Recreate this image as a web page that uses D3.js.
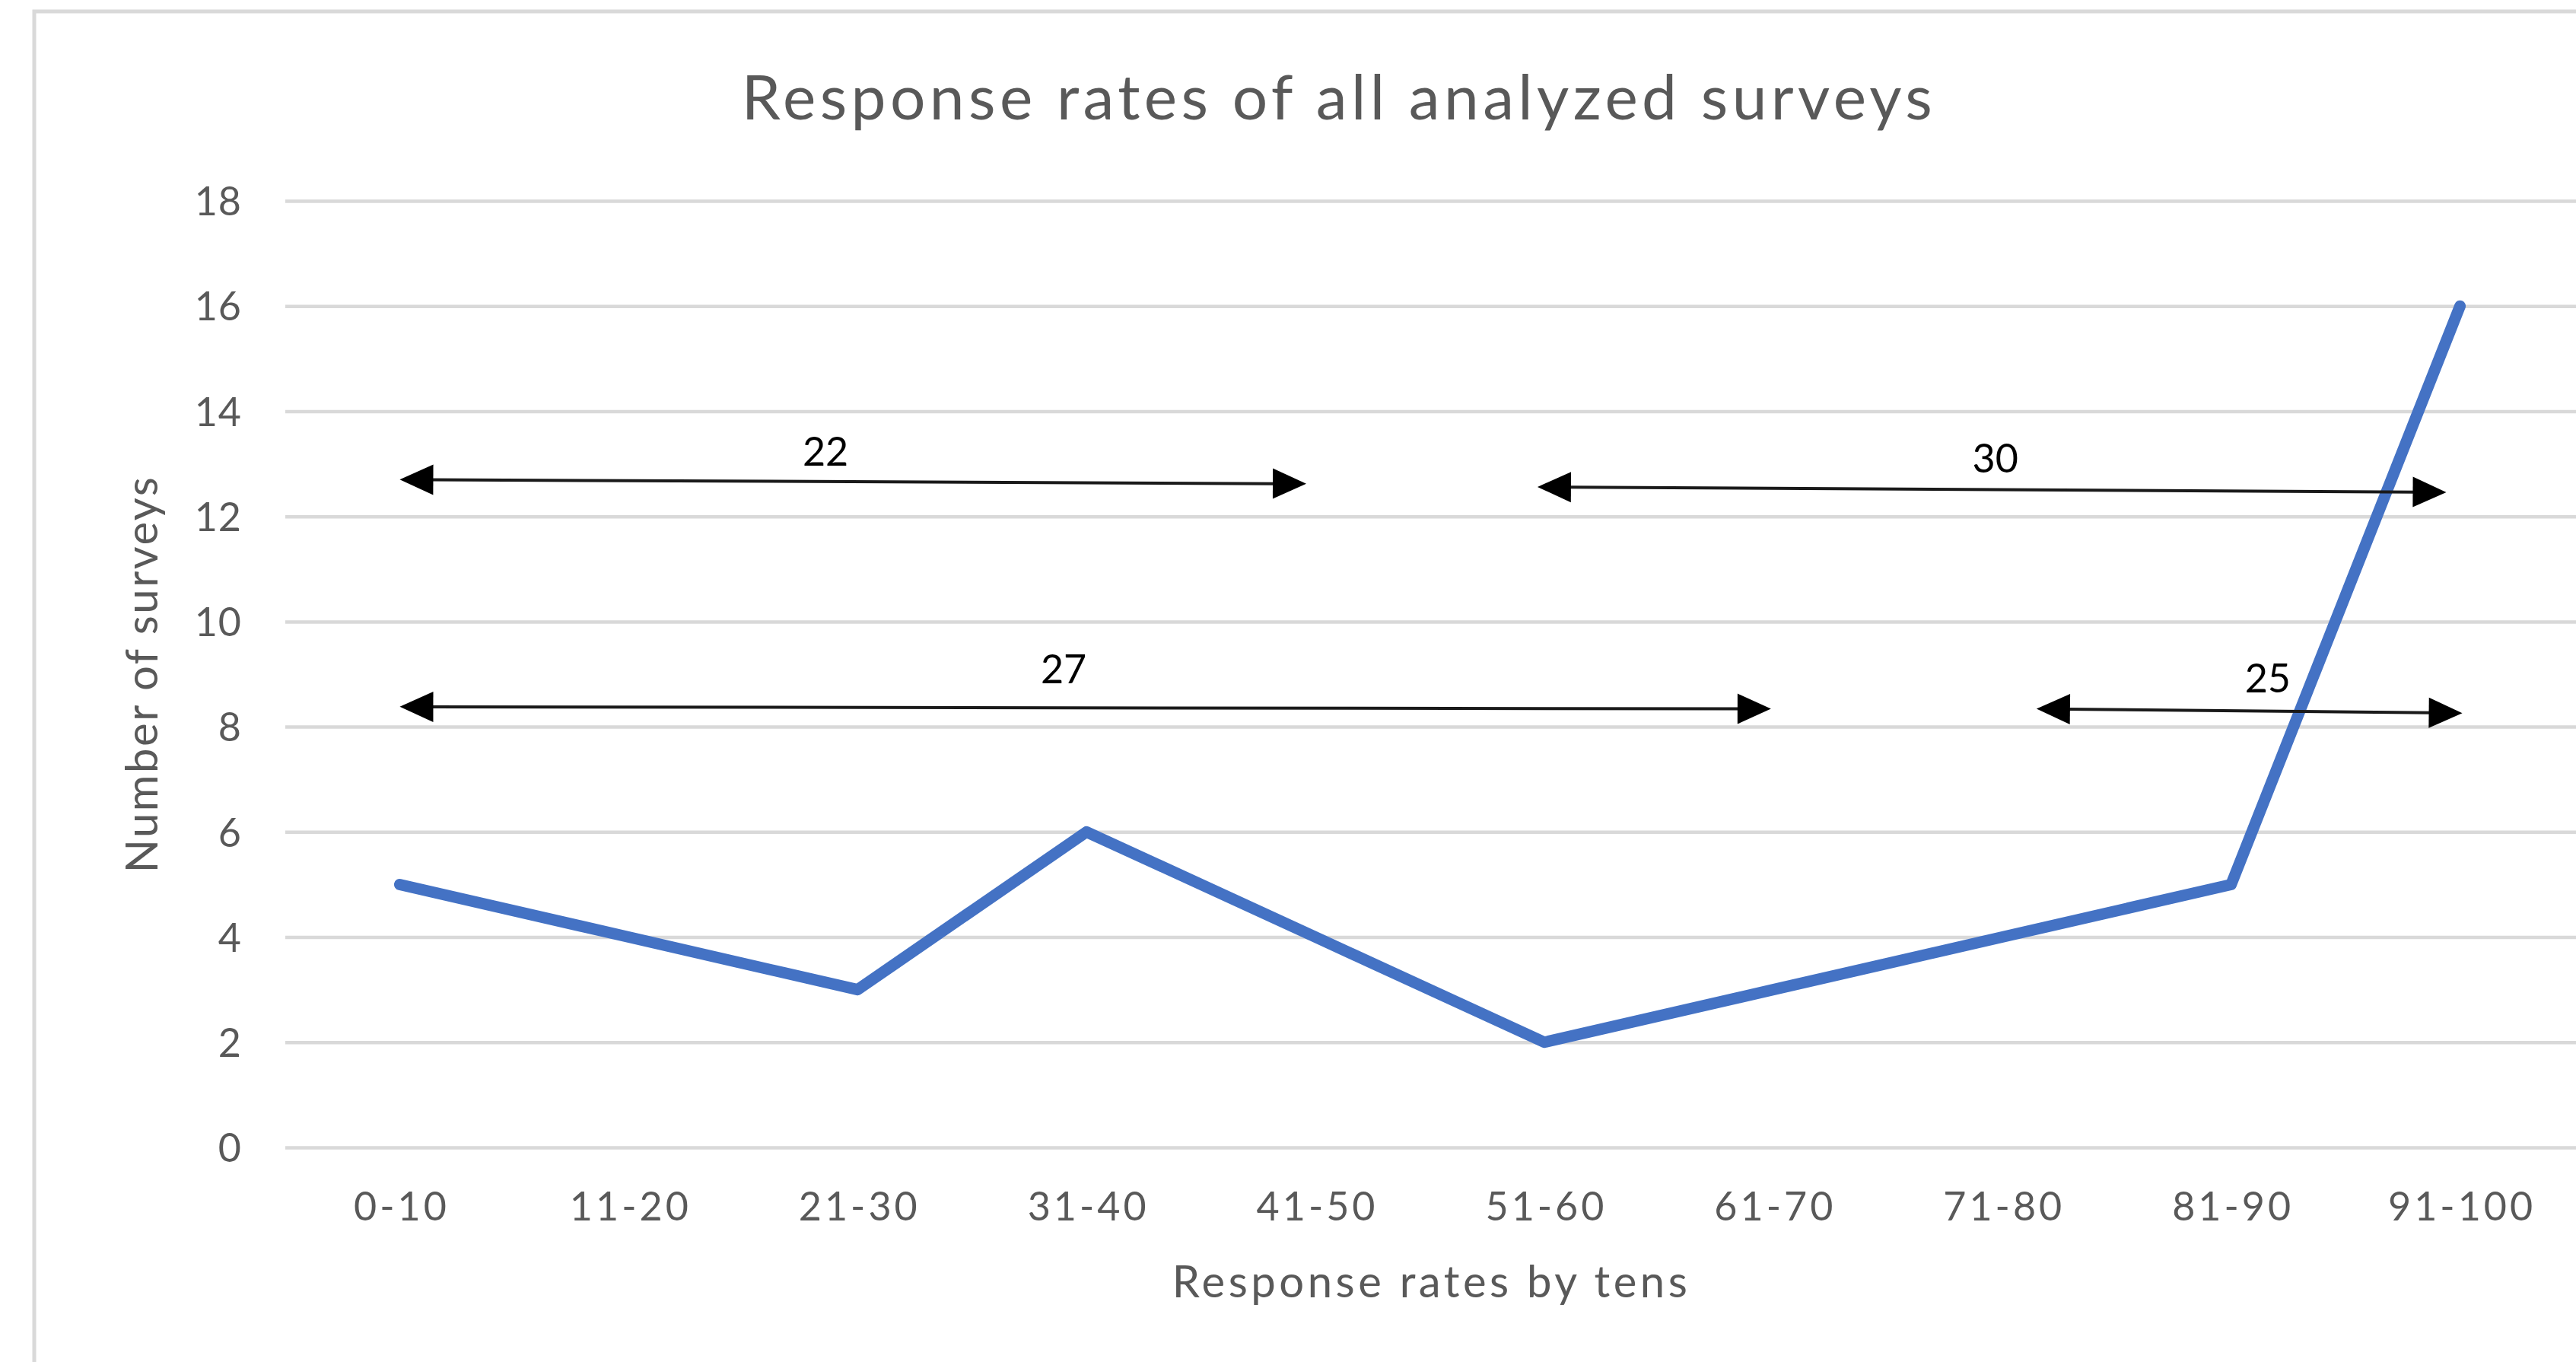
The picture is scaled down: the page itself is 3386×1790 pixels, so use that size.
<!DOCTYPE html>
<html>
<head>
<meta charset="utf-8">
<script src="https://cdn.jsdelivr.net/npm/d3@7"></script>
<style>
  html, body { margin: 0; padding: 0; background: #ffffff; }
  svg { display: block; }
  text { font-family: Lato, "Open Sans", sans-serif; }
</style>
</head>
<body>
<svg id="chart" width="3386" height="1790"></svg>
<script>
// ---- data ----
const categories = ["0-10","11-20","21-30","31-40","41-50","51-60","61-70","71-80","81-90","91-100"];
const surveyCounts = [5, 4, 3, 6, 4, 2, 3, 4, 5, 16];
const yTicks = [0, 2, 4, 6, 8, 10, 12, 14, 16, 18];

// annotation arrows (positions in category-index / value units)
const arrowLabels   = ["22", "27", "30", "25"];
const arrowFromIdx  = [0.0, 0.0, 4.97, 7.15];
const arrowToIdx    = [3.96, 5.99, 8.94, 9.01];
const arrowFromVal  = [12.70, 8.38, 12.56, 8.34];
const arrowToVal    = [12.62, 8.34, 12.46, 8.26];
const labelIdx      = [1.86, 2.90, 6.97, 8.16];
const labelVal      = [12.97, 8.83, 12.84, 8.65];

const titleText = "Response rates of all analyzed surveys";
const xTitle = "Response rates by tens";
const yTitle = "Number of surveys";

// ---- layout ----
const plot = { left: 375, right: 3384, top: 264, bottom: 1508 };
const svg = d3.select("#chart");

// chart border
svg.append("rect")
  .attr("x", 45).attr("y", 15)
  .attr("width", 3450).attr("height", 1850)
  .attr("fill", "none").attr("stroke", "#d9d9d9").attr("stroke-width", 5);

const x = d3.scalePoint().domain(categories).range([plot.left, plot.right]).padding(0.5);
const y = d3.scaleLinear().domain([0, 18]).range([plot.bottom, plot.top]);
const xi = d3.scaleLinear().domain([0, categories.length - 1])
  .range([x(categories[0]), x(categories[categories.length - 1])]);

// gridlines + y tick labels
const yAxis = svg.append("g")
  .attr("transform", `translate(${plot.left},0)`)
  .call(d3.axisLeft(y).tickValues(yTicks).tickSize(-(plot.right - plot.left + 2)).tickPadding(57));
yAxis.select(".domain").remove();
yAxis.selectAll(".tick line").attr("stroke", "#d9d9d9").attr("stroke-width", 4.5);
yAxis.selectAll(".tick text")
  .attr("fill", "#595959").attr("font-size", 52).attr("letter-spacing", 1).attr("dy", "0.36em");

// x tick labels
const xAxis = svg.append("g")
  .attr("transform", `translate(0,${plot.bottom})`)
  .call(d3.axisBottom(x).tickSize(0));
xAxis.select(".domain").remove();
xAxis.selectAll(".tick text")
  .attr("fill", "#595959").attr("font-size", 52).attr("letter-spacing", 4)
  .attr("x", 2).attr("y", 96).attr("dy", 0);

// titles
svg.append("text")
  .attr("x", 1760).attr("y", 157)
  .attr("text-anchor", "middle").attr("fill", "#595959")
  .attr("font-size", 82).attr("letter-spacing", 5.4).text(titleText);

svg.append("text")
  .attr("x", (plot.left + plot.right) / 2 + 2).attr("y", 1705)
  .attr("text-anchor", "middle").attr("fill", "#595959")
  .attr("font-size", 58).attr("letter-spacing", 4.5).text(xTitle);

svg.append("text")
  .attr("transform", `translate(207,${(plot.top + plot.bottom) / 2}) rotate(-90)`)
  .attr("text-anchor", "middle").attr("fill", "#595959")
  .attr("font-size", 58).attr("letter-spacing", 2.5).text(yTitle);

// data line
const line = d3.line()
  .x((d, i) => x(categories[i]))
  .y(d => y(d));
svg.append("path")
  .datum(surveyCounts)
  .attr("d", line)
  .attr("fill", "none")
  .attr("stroke", "#4472c4")
  .attr("stroke-width", 15)
  .attr("stroke-linejoin", "round")
  .attr("stroke-linecap", "round");

// annotation arrows
const headLen = 44, headHalf = 20;
const ann = svg.append("g");
arrowLabels.forEach((lab, k) => {
  const x1 = xi(arrowFromIdx[k]), y1 = y(arrowFromVal[k]);
  const x2 = xi(arrowToIdx[k]),   y2 = y(arrowToVal[k]);
  const dx = x2 - x1, dy = y2 - y1, len = Math.hypot(dx, dy);
  const ux = dx / len, uy = dy / len, px = -uy, py = ux;
  ann.append("line")
    .attr("x1", x1 + ux * headLen * 0.9).attr("y1", y1 + uy * headLen * 0.9)
    .attr("x2", x2 - ux * headLen * 0.9).attr("y2", y2 - uy * headLen * 0.9)
    .attr("stroke", "#1a1a1a").attr("stroke-width", 4);
  const head = (tx, ty, sx, sy) => {
    const bx = tx - sx * headLen, by = ty - sy * headLen;
    return [[tx, ty], [bx + px * headHalf, by + py * headHalf], [bx - px * headHalf, by - py * headHalf]]
      .map(p => p.join(",")).join(" ");
  };
  ann.append("polygon").attr("points", head(x2, y2, ux, uy)).attr("fill", "#000");
  ann.append("polygon").attr("points", head(x1, y1, -ux, -uy)).attr("fill", "#000");
  ann.append("text")
    .attr("x", xi(labelIdx[k])).attr("y", y(labelVal[k]))
    .attr("text-anchor", "middle").attr("fill", "#000")
    .attr("font-size", 52).text(lab);
});
</script>
</body>
</html>
